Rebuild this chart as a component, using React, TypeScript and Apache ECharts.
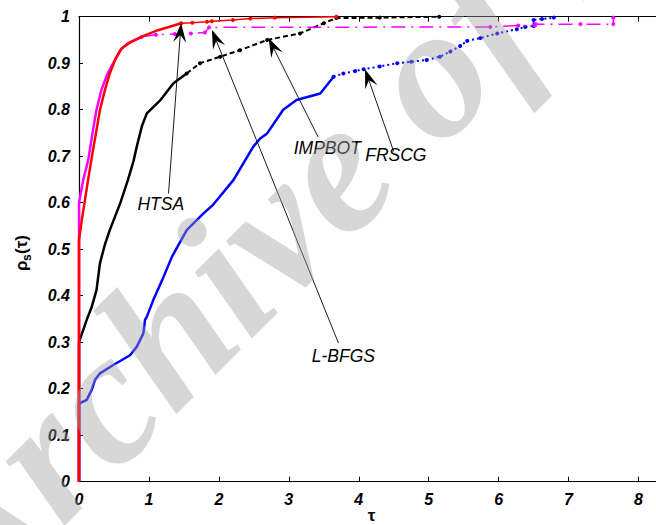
import React, { useEffect, useRef } from "react";
import * as echarts from "echarts";

// HTSA (red)
const htsaX = [0, 0, 0.04, 0.13, 0.2, 0.25, 0.3, 0.37, 0.44, 0.515, 0.61, 0.75, 0.94, 1.13, 1.33, 1.46, 1.62, 1.83, 1.9, 2.2, 2.45, 2.8, 3.68];
const htsaY = [0, 0.52, 0.5625, 0.649, 0.713, 0.756, 0.8, 0.842, 0.878, 0.907, 0.932, 0.946, 0.96, 0.971, 0.98, 0.986, 0.987, 0.989, 0.99, 0.993, 0.996, 0.998, 1.0];

// L-BFGS (magenta)
const lbfgsX = [0, 0, 0.06, 0.13, 0.2, 0.25, 0.32, 0.4, 0.49, 0.59, 0.7, 0.9, 1.1, 1.37, 1.6, 1.8, 1.86, 5.88, 6.28, 6.52, 6.53, 7.17, 7.64, 7.64];
const lbfgsY = [0, 0.6, 0.649, 0.69, 0.756, 0.8, 0.842, 0.875, 0.9, 0.928, 0.943, 0.957, 0.961, 0.963, 0.964, 0.966, 0.977, 0.978, 0.981, 0.981, 0.984, 0.984, 0.984, 0.998];

// IMPBOT (black)
const impbotX = [0, 0, 0.11, 0.18, 0.25, 0.3, 0.37, 0.44, 0.59, 0.7, 0.78, 0.825, 0.9, 0.97, 1.16, 1.35, 1.54, 1.73, 2.02, 2.3, 2.69, 3.16, 3.5, 3.68, 4.3, 5.15];
const impbotY = [0, 0.3, 0.348, 0.375, 0.412, 0.47, 0.51, 0.541, 0.599, 0.649, 0.69, 0.72, 0.765, 0.792, 0.82, 0.857, 0.878, 0.9, 0.914, 0.928, 0.95, 0.964, 0.986, 0.997, 0.998, 1.0];

// FRSCG (blue)
const frscgX = [0, 0, 0.11, 0.18, 0.23, 0.3, 0.49, 0.73, 0.825, 0.92, 0.944, 0.97, 1.06, 1.21, 1.33, 1.54, 1.78, 1.92, 2.21, 2.49, 2.59, 2.69, 2.92, 3.11, 3.45, 3.64, 3.78, 3.95, 4.07, 4.3, 4.55, 4.75, 4.97, 5.16, 5.31, 5.45, 5.55, 5.74, 5.98, 6.26, 6.38, 6.5, 6.5, 6.62, 6.79];
const frscgY = [0, 0.168, 0.176, 0.197, 0.219, 0.233, 0.251, 0.272, 0.29, 0.319, 0.348, 0.355, 0.39, 0.441, 0.484, 0.541, 0.577, 0.596, 0.649, 0.72, 0.738, 0.749, 0.8, 0.821, 0.835, 0.871, 0.878, 0.883, 0.887, 0.893, 0.9, 0.903, 0.907, 0.914, 0.925, 0.937, 0.948, 0.954, 0.964, 0.973, 0.978, 0.98, 0.993, 0.995, 0.998];

const xTicks = [0, 1, 2, 3, 4, 5, 6, 7, 8];
const yTicks = [0, 0.1, 0.2, 0.3, 0.4, 0.5, 0.6, 0.7, 0.8, 0.9, 1];

// annotations: label, label position (data), arrow tail (data), arrow tip (data)
const annLabels = ["HTSA", "L-BFGS", "IMPBOT", "FRSCG"];
const annLabelPos = [[1.17, 0.597], [3.78, 0.271], [3.55, 0.717], [4.53, 0.703]];
const annTail = [[1.28, 0.62], [3.71, 0.298], [3.42, 0.741], [4.5, 0.71]];
const annTip = [[1.46, 0.986], [1.9, 0.972], [2.71, 0.954], [4.09, 0.887]];

const zip = (xs: number[], ys: number[]) => xs.map((x, i) => [x, ys[i]]);

const FONT = '"Liberation Sans", Arial, sans-serif';

export default function App() {
  const ref = useRef<HTMLDivElement>(null);
  useEffect(() => {
    if (!ref.current) return;
    const chart = echarts.init(ref.current, null, { renderer: "svg" });

    const split = (xs: number[], ys: number[], until: number) => {
      const pts = zip(xs, ys);
      const idx = pts.findIndex((p) => p[0] >= until);
      return [pts.slice(0, idx + 1), pts.slice(idx)];
    };
    const [rA, rB] = split(htsaX, htsaY, 1.46);
    const [mA, mB] = split(lbfgsX, lbfgsY, 0.9);
    const [kA, kB] = split(impbotX, impbotY, 1.54);
    const [bA, bB] = split(frscgX, frscgY, 3.64);

    const dense = (data: number[][], color: string, z: number) => ({
      type: "line",
      data,
      showSymbol: false,
      symbol: "none",
      lineStyle: { color, width: 2.5 },
      itemStyle: { color },
      z,
      silent: true,
    });
    const tail = (data: number[][], color: string, type: any, width: number, z: number) => ({
      type: "line",
      data,
      symbol: "circle",
      symbolSize: 4,
      showSymbol: true,
      lineStyle: { color, width, type },
      itemStyle: { color, borderWidth: 0 },
      z,
      silent: true,
    });

    const axisLabelStyle = {
      color: "#000",
      fontFamily: FONT,
      fontWeight: "bold",
      fontStyle: "italic",
      fontSize: 16,
    };

    const option: any = {
      animation: false,
      backgroundColor: "#fff",
      grid: { left: 79, right: 0, top: 16.7, bottom: 43.3, containLabel: false },
      xAxis: [
        {
          type: "value",
          position: "bottom",
          min: 0,
          max: 8.25,
          interval: 1,
          axisLine: { onZero: false, lineStyle: { color: "#000", width: 1.2 } },
          axisTick: { inside: true, length: 5, lineStyle: { color: "#000" } },
          axisLabel: {
            ...axisLabelStyle,
            margin: 10,
            showMaxLabel: false,
            formatter: (v: number) => (xTicks.includes(v) ? String(v) : ""),
          },
          splitLine: { show: false },
        },
        {
          type: "value",
          position: "top",
          min: 0,
          max: 8.25,
          interval: 1,
          axisLine: { onZero: false, lineStyle: { color: "#000", width: 1.2 } },
          axisTick: { inside: true, length: 5, lineStyle: { color: "#000" } },
          axisLabel: { show: false },
          splitLine: { show: false },
        },
      ],
      yAxis: {
        type: "value",
        min: 0,
        max: 1,
        interval: 0.1,
        axisLine: { onZero: false, lineStyle: { color: "#000", width: 1.2 } },
        axisTick: { inside: true, length: 4, lineStyle: { color: "#000" } },
        axisLabel: {
          ...axisLabelStyle,
          margin: 9,
          formatter: (v: number) => {
            const t = yTicks.find((y) => Math.abs(y - v) < 1e-9);
            if (t === undefined) return "";
            return t === 0 || t === 1 ? String(t) : t.toFixed(1);
          },
        },
        splitLine: { show: false },
      },
      series: [
        dense(bA, "#0000ff", 2),
        tail(bB, "#0000ff", [2, 3], 2, 2),
        dense(kA, "#000000", 3),
        tail(kB, "#000000", [5, 3], 2, 3),
        dense(mA, "#ff00ff", 4),
        tail(mB, "#ff00ff", [14, 6, 2, 6], 1.5, 4),
        dense(rA, "#ff0000", 5),
        tail(rB, "#ff0000", "solid", 1.5, 5),
      ],
    };
    chart.setOption(option);

    const toPx = (p: number[]) => chart.convertToPixel({ seriesIndex: 0 }, p) as number[];
    const graphics: any[] = [];
    annLabels.forEach((label, i) => {
      const tip = toPx(annTip[i]);
      const tl = toPx(annTail[i]);
      const lp = toPx(annLabelPos[i]);
      const dx = tip[0] - tl[0];
      const dy = tip[1] - tl[1];
      const len = Math.hypot(dx, dy);
      const ux = dx / len;
      const uy = dy / len;
      const nx = -uy;
      const ny = ux;
      const L = 19;
      const W = 6.5;
      graphics.push({
        type: "line",
        silent: true,
        z: 20,
        shape: { x1: tl[0], y1: tl[1], x2: tip[0] - ux * 10, y2: tip[1] - uy * 10 },
        style: { stroke: "#000", lineWidth: 0.9 },
      });
      graphics.push({
        type: "polygon",
        silent: true,
        z: 21,
        shape: {
          points: [
            [tip[0], tip[1]],
            [tip[0] - ux * L + nx * W, tip[1] - uy * L + ny * W],
            [tip[0] - ux * L * 0.62, tip[1] - uy * L * 0.62],
            [tip[0] - ux * L - nx * W, tip[1] - uy * L - ny * W],
          ],
        },
        style: { fill: "#000" },
      });
      graphics.push({
        type: "text",
        silent: true,
        z: 21,
        x: lp[0],
        y: lp[1],
        style: {
          text: label,
          font: `italic 17.5px ${FONT}`,
          fill: "#000",
          textAlign: "center",
          textVerticalAlign: "middle",
        },
      });
    });

    // x-axis name: tau, centred under the plot area
    const xMid = toPx([4.125, 0]);
    graphics.push({
      type: "text",
      silent: true,
      x: xMid[0] + 4,
      y: xMid[1] + 34,
      style: {
        text: "τ",
        font: `bold 17px ${FONT}`,
        fill: "#000",
        textAlign: "center",
        textVerticalAlign: "middle",
      },
    });

    // y-axis name: rho_s(tau)
    graphics.push({
      type: "group",
      x: 13,
      y: 271,
      rotation: Math.PI / 2,
      silent: true,
      children: [
        { type: "text", x: 0, y: 0, style: { text: "ρ", font: `bold 17px ${FONT}`, fill: "#000", textVerticalAlign: "top" } },
        { type: "text", x: 10, y: 8, style: { text: "s", font: `bold 12px ${FONT}`, fill: "#000", textVerticalAlign: "top" } },
        { type: "text", x: 17, y: 0, style: { text: "(τ)", font: `bold 17px ${FONT}`, fill: "#000", textVerticalAlign: "top" } },
      ],
    });

    // watermark
    graphics.push({
      type: "text",
      silent: true,
      z: 50,
      x: -73,
      y: 573,
      rotation: 0.785,
      style: {
        text: "Archive of SID",
        font: `italic bold 190px "Liberation Serif", serif`,
        fill: "rgba(160,160,160,0.42)",
        textAlign: "left",
        textVerticalAlign: "middle",
      },
    });

    chart.setOption({ graphic: graphics });
    return () => chart.dispose();
  }, []);
  return (
    <div
      ref={ref}
      style={{ position: "fixed", left: 0, top: 0, width: 656, height: 525, background: "#fff" }}
    />
  );
}
